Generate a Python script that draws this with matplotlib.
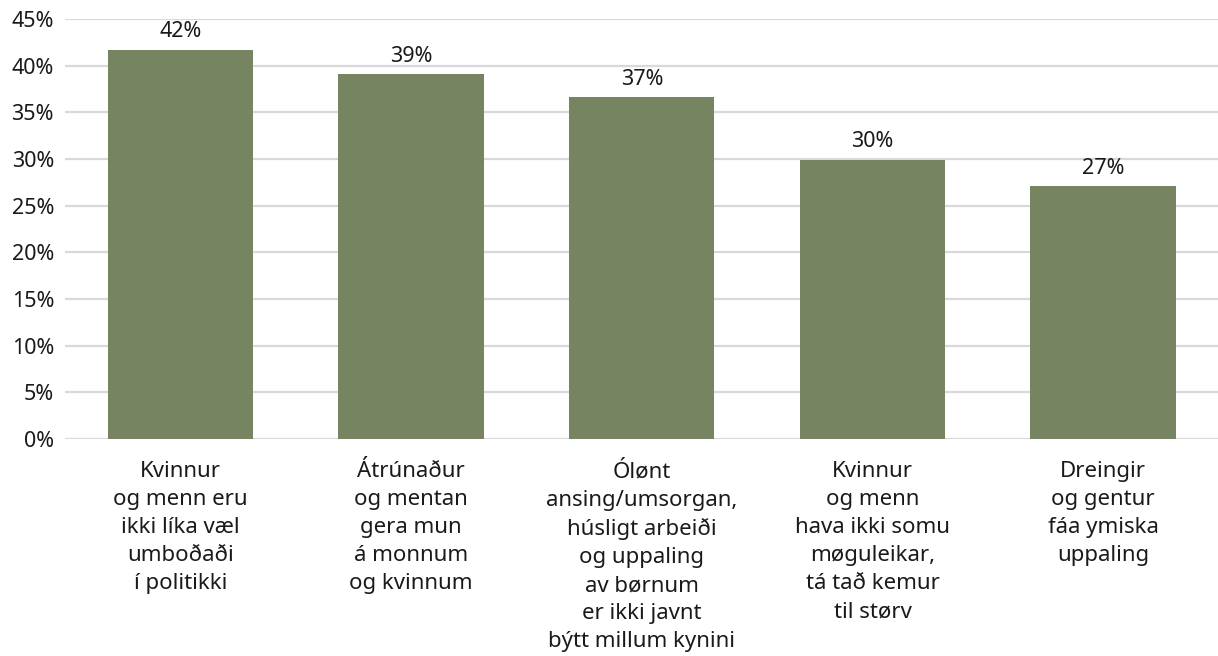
import matplotlib
matplotlib.use("Agg")
import matplotlib.pyplot as plt
from matplotlib.ticker import FuncFormatter

plt.rcParams['font.family'] = ['Noto Sans', 'DejaVu Sans']

categories = [
    "Kvinnur\nog menn eru\nikki líka væl\numboðaði\ní politikki",
    "Átrúnaður\nog mentan\ngera mun\ná monnum\nog kvinnum",
    "Ólønt\nansing/umsorgan,\nhúsligt arbeiði\nog uppaling\nav børnum\ner ikki javnt\nbýtt millum kynini",
    "Kvinnur\nog menn\nhava ikki somu\nmøguleikar,\ntá tað kemur\ntil størv",
    "Dreingir\nog gentur\nfáa ymiska\nuppaling",
]
values = [41.7, 39.1, 36.6, 29.9, 27.1]
yticks = [0, 5, 10, 15, 20, 25, 30, 35, 40, 45]

fig = plt.figure(figsize=(12.18, 6.56), dpi=100)
ax = fig.add_axes([0.0534, 0.331, 0.947, 0.640])

x = range(len(categories))
bars = ax.bar(x, values, width=0.63, color="#778462", zorder=3)

for b, v in zip(bars, values):
    ax.text(b.get_x() + b.get_width() / 2, v + 0.8, "%d%%" % round(v),
            ha="center", va="bottom", fontsize=15.5, color="#1a1a1a")

ax.set_xlim(-0.5, len(categories) - 0.5)
ax.set_ylim(0, 45)
ax.set_yticks(yticks)
ax.yaxis.set_major_formatter(FuncFormatter(lambda v, p: "%d%%" % v))
ax.grid(axis="y", color="#d9d9d9", linewidth=1.6, zorder=0)
for s in ax.spines.values():
    s.set_visible(False)
ax.tick_params(axis="both", length=0, labelsize=15.5, colors="#1a1a1a")
ax.tick_params(axis="y", pad=8)
ax.set_xticks(list(x))
ax.set_xticklabels(categories, fontsize=16, linespacing=1.44, va="top")
ax.tick_params(axis="x", pad=16)

fig.savefig("out.png", dpi=100)
